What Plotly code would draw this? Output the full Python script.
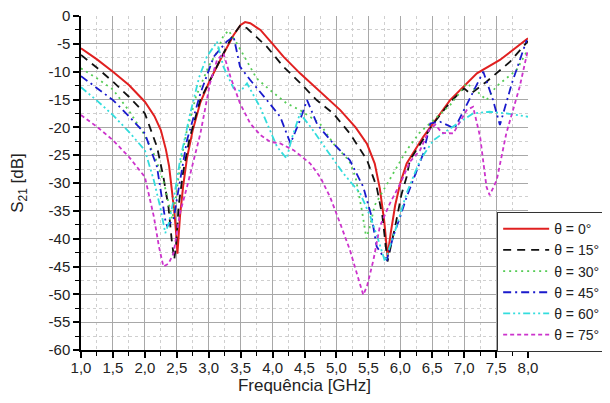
import plotly.graph_objects as go

# ---------------- data ----------------
freq_0 = [1.0,1.25,1.5,1.75,2.0,2.15,2.25,2.33,2.38,2.42,2.46,2.49,2.51,2.55,2.6,2.66,2.75,2.87,3.0,3.18,3.39,3.5,3.57,3.65,3.81,4.0,4.17,4.43,4.69,5.06,5.3,5.48,5.6,5.68,5.75,5.8,5.85,5.92,6.0,6.1,6.36,6.78,7.2,7.56,8.0]
s21_0 = [-5.8,-7.8,-10.0,-12.4,-15.4,-18.0,-20.5,-24,-27,-30.7,-35,-39,-42.7,-36,-30.5,-25.5,-20.5,-15.5,-12,-7.9,-3.4,-1.6,-1.1,-1.3,-2.5,-5.0,-7.3,-10.3,-13.0,-16.9,-20,-23,-26.5,-31,-37,-43.2,-39,-34,-30,-26.5,-21.7,-15.1,-10.3,-7.9,-4.0]

freq_15 = [1.0,1.25,1.5,1.75,2.0,2.19,2.29,2.37,2.42,2.46,2.49,2.53,2.6,2.7,2.87,3.0,3.2,3.35,3.5,3.6,3.75,3.91,4.17,4.43,4.69,4.95,5.21,5.48,5.63,5.72,5.8,5.86,5.92,6.02,6.1,6.15,6.52,6.78,7.0,7.1,7.35,7.72,8.0]
s21_15 = [-7.0,-9.3,-11.8,-14.5,-17.5,-23.5,-28.9,-34.3,-40.2,-43.8,-41,-34,-28,-22,-15,-12,-7.5,-4,-1.6,-2.2,-3.8,-5.5,-9.1,-12,-15.1,-17.5,-21.1,-25.9,-30.7,-36,-44.1,-41,-37.8,-32,-28.9,-25.9,-19.3,-15.5,-13.0,-14.0,-11.8,-8.2,-4.5]

freq_30 = [1.0,1.25,1.5,1.75,1.98,2.15,2.3,2.38,2.43,2.48,2.55,2.65,2.8,3.0,3.13,3.22,3.31,3.44,3.6,3.75,3.96,4.22,4.43,4.74,4.95,5.2,5.3,5.4,5.47,5.52,5.6,5.75,5.87,6.0,6.1,6.3,6.57,6.78,7.04,7.2,7.35,7.5,7.82,8.0]
s21_30 = [-9.4,-11.2,-13.2,-17,-21.1,-25,-30,-34,-36.5,-33,-27,-21,-14.5,-9,-6.5,-3.8,-2.6,-4.9,-8.2,-11.2,-13.3,-15.7,-16.9,-19.3,-22.9,-26,-29,-35,-40,-38,-34,-31,-28.5,-25.9,-24.1,-21,-18.1,-16,-12.1,-13.5,-15.1,-12.7,-9.7,-6]

freq_45 = [1.0,1.25,1.5,1.75,2.0,2.19,2.26,2.32,2.35,2.4,2.45,2.5,2.58,2.66,2.87,3.08,3.28,3.39,3.49,3.65,3.91,4.12,4.28,4.43,4.54,4.7,4.95,5.21,5.42,5.55,5.63,5.72,5.79,5.89,6.0,6.1,6.36,6.47,6.62,6.85,7.09,7.3,7.45,7.56,7.75,7.98]
s21_45 = [-10.8,-12.9,-15.1,-18,-21.1,-27.1,-32,-36.6,-37.8,-37.2,-36.6,-33,-28,-22.3,-13.9,-7.3,-4.6,-3.7,-9.1,-11.5,-15.1,-18.1,-22.9,-18.7,-15.1,-19.5,-22.9,-25.9,-30.7,-36,-41.4,-43,-43.8,-39.6,-36,-32.5,-24.7,-19.3,-19,-20.2,-14.8,-10.0,-15,-19.6,-12,-4.3]

freq_60 = [1.0,1.25,1.5,1.75,2.0,2.14,2.24,2.32,2.38,2.45,2.55,2.7,2.85,2.97,3.08,3.13,3.23,3.39,3.5,3.6,3.81,4.07,4.22,4.3,4.43,4.6,4.85,5.11,5.37,5.53,5.65,5.76,5.94,6.1,6.31,6.52,6.78,7.14,7.4,7.66,8.0]
s21_60 = [-12.8,-15.2,-17.8,-20.8,-24.1,-29.5,-34.3,-39,-37,-33,-26,-18,-11,-7.3,-5.5,-4.6,-9.1,-13.0,-13.5,-12.1,-16.5,-23.5,-25.6,-22,-17.5,-20,-24.1,-28.3,-31.8,-36,-40,-44.1,-37.8,-31.8,-25.9,-22.3,-20.2,-17.5,-17.2,-17.5,-18.1]

freq_75 = [1.0,1.25,1.5,1.75,2.0,2.14,2.22,2.29,2.37,2.45,2.55,2.66,2.87,3.02,3.13,3.23,3.34,3.49,3.65,3.81,3.96,4.12,4.33,4.59,4.75,4.9,5.05,5.21,5.3,5.37,5.42,5.48,5.58,5.68,5.84,6.0,6.15,6.31,6.45,6.55,6.65,6.83,7.04,7.14,7.25,7.35,7.4,7.51,7.66,7.87,8.0]
s21_75 = [-17.8,-19.9,-22.3,-25.3,-28.9,-36,-41.4,-45,-44.5,-42.6,-35.4,-30.7,-21.1,-12.1,-7.9,-6.7,-10.9,-15.7,-19.3,-21.4,-22.6,-22.9,-24.1,-26.5,-29,-32.5,-37,-42,-45.5,-48,-50.1,-48.5,-43.8,-37.8,-33.6,-30.1,-26.2,-24.1,-20.5,-19.5,-21,-21.1,-16.9,-16.3,-21.7,-30.7,-32.2,-29.5,-21.1,-12.7,-6]

series_names = ["θ = 0°", "θ = 15°", "θ = 30°", "θ = 45°", "θ = 60°", "θ = 75°"]

x_tick_vals = [1.0,1.5,2.0,2.5,3.0,3.5,4.0,4.5,5.0,5.5,6.0,6.5,7.0,7.5,8.0]
x_tick_text = ["1,0","1,5","2,0","2,5","3,0","3,5","4,0","4,5","5,0","5,5","6,0","6,5","7,0","7,5","8,0"]
y_tick_vals = [0,-5,-10,-15,-20,-25,-30,-35,-40,-45,-50,-55,-60]
y_tick_text = ["0","-5","-10","-15","-20","-25","-30","-35","-40","-45","-50","-55","-60"]

# ---------------- styles ----------------
styles = [
    dict(color="#e02020", width=2.0, dash="solid"),
    dict(color="#111111", width=1.8, dash="8px,6px"),
    dict(color="#55cc55", width=1.8, dash="2px,4px"),
    dict(color="#1a1acc", width=1.8, dash="8px,4px,2px,4px"),
    dict(color="#33dddd", width=1.8, dash="7px,3px,2px,3px,2px,3px"),
    dict(color="#cc33cc", width=1.8, dash="4px,3px"),
]

xs = [freq_0, freq_15, freq_30, freq_45, freq_60, freq_75]
ys = [s21_0, s21_15, s21_30, s21_45, s21_60, s21_75]

fig = go.Figure()
for x, y, name, st in zip(xs, ys, series_names, styles):
    fig.add_trace(go.Scatter(x=x, y=y, mode="lines", name=name, line=st))

font_fam = "Liberation Sans, Arial, sans-serif"
# the page body has an 8px margin, so margins are offset accordingly
fig.update_layout(
    width=610, height=403,
    margin=dict(l=73, r=90, t=8, b=61),
    paper_bgcolor="white", plot_bgcolor="white",
    font=dict(family=font_fam, color="#222222", size=15),
    showlegend=True,
    legend=dict(x=0.931, y=0.413, xanchor="left", yanchor="top",
                bordercolor="#333333", borderwidth=1, bgcolor="white",
                font=dict(size=14, color="#222222"), tracegroupgap=0,
                itemwidth=46),
)
fig.update_xaxes(
    range=[1, 8], tickmode="array", tickvals=x_tick_vals, ticktext=x_tick_text,
    showgrid=True, gridcolor="#a8a8a8", gridwidth=1,
    showline=True, linecolor="black", linewidth=1.5, mirror=False,
    ticks="outside", ticklen=6, tickwidth=1.5, tickcolor="black",
    tickfont=dict(size=15), zeroline=False, automargin=False,
    ticklabeloverflow="allow", ticklabelstandoff=-3,
    minor=dict(tickmode="linear", tick0=1, dtick=0.25, showgrid=True, gridcolor="#cfcfcf",
               griddash="dot", gridwidth=1, ticks="outside", ticklen=4, tickcolor="black", tickwidth=1),
    title=dict(text="Frequência [GHz]", font=dict(size=17), standoff=3),
)
fig.update_yaxes(
    range=[-60, 0], tickmode="array", tickvals=y_tick_vals, ticktext=y_tick_text,
    showgrid=True, gridcolor="#a8a8a8", gridwidth=1,
    showline=True, linecolor="black", linewidth=1.5, mirror=False,
    ticks="outside", ticklen=6, tickwidth=1.5, tickcolor="black",
    tickfont=dict(size=15), zeroline=False, automargin=False,
    ticklabeloverflow="allow",
    minor=dict(tickmode="linear", tick0=0, dtick=2.5, showgrid=True, gridcolor="#cfcfcf",
               griddash="dot", gridwidth=1, ticks="outside", ticklen=4, tickcolor="black", tickwidth=1),
    title=dict(text="S<sub>21</sub> [dB]", font=dict(size=17), standoff=22),
)

fig.write_html("out.html")
